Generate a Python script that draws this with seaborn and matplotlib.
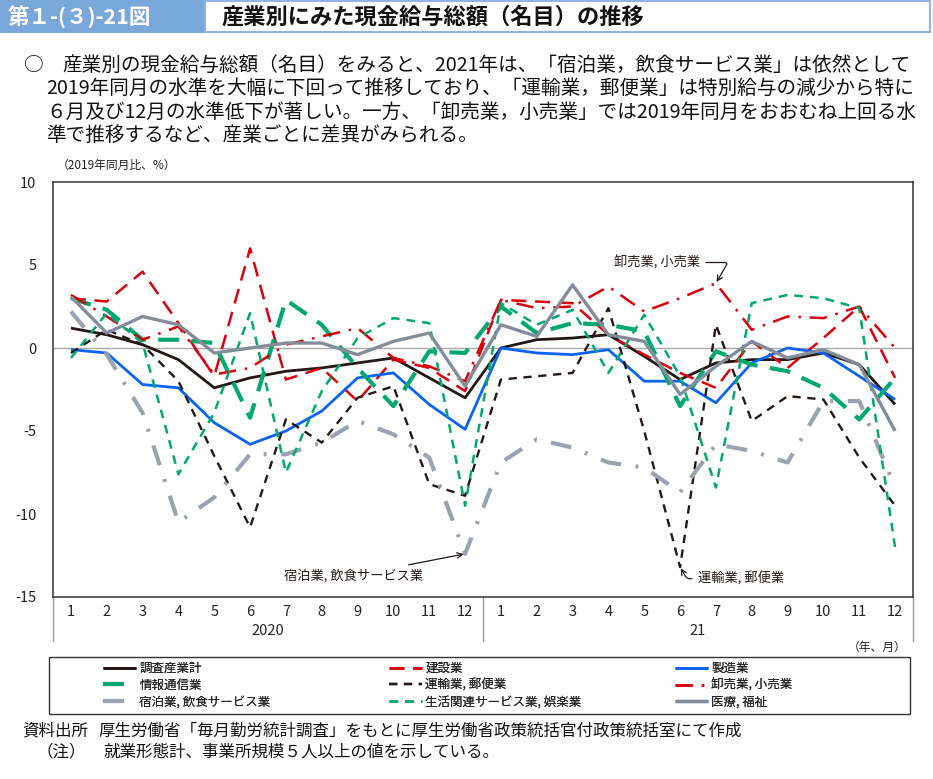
import numpy as np
import pandas as pd
import matplotlib
matplotlib.use("Agg")
import matplotlib.pyplot as plt
from matplotlib.patches import Rectangle
from matplotlib.lines import Line2D
import matplotlib.transforms as mtransforms
import seaborn as sns

# ---------------- data ----------------
months = [1, 2, 3, 4, 5, 6, 7, 8, 9, 10, 11, 12] * 2
year_labels = ["2020", "21"]

total        = [1.2, 0.8, 0.2, -0.7, -2.4, -1.8, -1.4, -1.2, -0.9, -0.6, -1.8, -3.0,
                0.0, 0.5, 0.6, 0.8, -0.5, -1.9, -0.9, -0.7, -0.7, -0.3, -1.0, -3.4]
construction = [3.0, 2.8, 4.6, 1.5, -1.7, 6.0, -1.9, -1.2, -3.2, -0.7, -1.2, -2.6,
                2.9, 2.8, 2.7, 0.8, -0.4, -1.5, -2.4, 0.4, -1.2, 0.6, 2.5, -1.8]
manufacturing = [-0.1, -0.3, -2.2, -2.4, -4.5, -5.8, -5.0, -3.8, -1.8, -1.5, -3.4, -4.9,
                 0.0, -0.3, -0.4, -0.1, -2.0, -2.0, -3.3, -0.9, 0.0, -0.3, -1.7, -3.1]
info_comm    = [3.0, 2.3, 0.5, 0.5, 0.3, -4.2, 2.9, 1.4, -1.2, -3.5, -0.2, -0.3,
                2.5, 0.9, 1.5, 1.4, 1.0, -3.5, -0.2, -1.0, -1.4, -2.4, -4.3, -1.8]
transport    = [-0.3, 1.1, 0.2, -2.0, -6.5, -10.8, -4.3, -5.7, -3.0, -2.3, -8.2, -8.9,
                -1.9, -1.7, -1.5, 2.4, -5.0, -13.2, 1.4, -4.4, -2.9, -3.1, -6.6, -9.5]
wholesale    = [3.2, 1.9, 0.5, 1.3, -1.6, -1.2, 0.2, 0.7, 1.2, -0.6, -1.1, -2.0,
                2.9, 2.4, 2.5, 3.7, 2.2, 3.0, 3.9, 1.1, 1.9, 1.8, 2.5, 0.0]
accommodation = [2.2, -0.4, -3.9, -10.5, -9.0, -6.4, -6.4, -5.7, -4.4, -5.2, -6.6, -12.4,
                 -6.9, -5.5, -6.0, -6.9, -7.2, -8.7, -5.8, -6.2, -6.9, -3.2, -3.2, -8.4]
lifestyle    = [-0.6, 2.1, 0.3, -7.6, -3.9, 2.1, -7.5, -2.6, 0.6, 1.8, 1.5, -9.5,
                2.7, 1.4, 2.3, -1.5, 2.0, -1.7, -8.4, 2.7, 3.2, 3.0, 2.4, -12.0]
health       = [3.1, 0.9, 1.9, 1.4, -0.3, 0.0, 0.3, 0.3, -0.4, 0.4, 0.9, -2.3,
                1.4, 0.7, 3.8, 0.8, 0.4, -2.8, -1.1, 0.4, -0.6, -0.1, -1.0, -5.0]

series_names = ["調査産業計", "建設業", "製造業", "情報通信業", "運輸業, 郵便業",
                "卸売業, 小売業", "宿泊業, 飲食サービス業", "生活関連サービス業, 娯楽業", "医療, 福祉"]
series_vals = [total, construction, manufacturing, info_comm, transport,
               wholesale, accommodation, lifestyle, health]

BLACK = "#231815"
RED = "#d7000f"
BLUE = "#0a64f0"
GREEN = "#00a870"
GRAY1 = "#9aa3ad"
GRAY2 = "#828d99"

styles = {
    "調査産業計": dict(color=BLACK, lw=2.0, dash=None),
    "建設業": dict(color=RED, lw=1.8, dash=(6, 3.5)),
    "製造業": dict(color=BLUE, lw=2.0, dash=None),
    "情報通信業": dict(color=GREEN, lw=3.0, dash=(5, 3)),
    "運輸業, 郵便業": dict(color=BLACK, lw=1.7, dash=(3.5, 2.8)),
    "卸売業, 小売業": dict(color=RED, lw=1.8, dash=(7, 3.5, 1, 3.5)),
    "宿泊業, 飲食サービス業": dict(color=GRAY1, lw=3.0, dash=(5, 3.5, 0.7, 3.5)),
    "生活関連サービス業, 娯楽業": dict(color=GREEN, lw=1.8, dash=(3.5, 2.8)),
    "医療, 福祉": dict(color=GRAY2, lw=2.4, dash=None),
}

df = pd.DataFrame({
    "pos": np.tile(np.arange(24), len(series_names)),
    "value": np.concatenate(series_vals),
    "series": np.repeat(series_names, 24),
})

# ---------------- figure ----------------
sns.set_theme(style="white")
FONT = ["Noto Sans CJK JP", "DejaVu Sans"]
plt.rcParams["font.family"] = FONT

W, H = 933, 779
fig = plt.figure(figsize=(W / 100, H / 100), dpi=100)

def fx(px):
    return px / W

def fy(py):
    return 1 - py / H

ax = fig.add_axes([fx(53), fy(597), fx(913) - fx(53), fy(182) - fy(597)])

ax.axhline(0, color="#a9a9a9", lw=1.0, zorder=1)

line_objs = {}
for name in series_names:
    st = styles[name]
    sub = df[df["series"] == name]
    n_before = len(ax.lines)
    sns.lineplot(data=sub, x="pos", y="value", ax=ax, color=st["color"],
                 linewidth=st["lw"], label=name, zorder=3)
    ln = ax.lines[n_before]
    if st["dash"] is not None:
        ln.set_linestyle((0, st["dash"]))
    ln.set_solid_capstyle("butt")
    ln.set_dash_capstyle("butt")
    line_objs[name] = ln

if ax.get_legend() is not None:
    ax.get_legend().remove()

ax.set_xlim(-0.5, 23.5)
ax.set_ylim(-15, 10)
ax.set_yticks([10, 5, 0, -5, -10, -15])
ax.set_yticklabels(["10", "5", "0", "-5", "-10", "-15"])
ax.set_xticks(np.arange(24))
ax.set_xticklabels([str(m) for m in months])
ax.tick_params(axis="both", length=0, labelsize=10.5, colors="#222222")
ax.tick_params(axis="y", pad=12)
ax.tick_params(axis="x", pad=6)
ax.set_xlabel("")
ax.set_ylabel("")
for sp in ax.spines.values():
    sp.set_color("#333333")
    sp.set_linewidth(1.1)
    sp.set_visible(True)

# year labels and separators
trans = mtransforms.blended_transform_factory(ax.transData, fig.transFigure)
ax.text(5.5, fy(631), year_labels[0], transform=trans, ha="center", va="center",
        fontsize=10.5, color="#222222")
ax.text(17.5, fy(631), year_labels[1], transform=trans, ha="center", va="center",
        fontsize=10.5, color="#222222")
for xp in [-0.5, 11.5, 23.5]:
    ax.add_line(Line2D([xp, xp], [fy(597), fy(641)], transform=trans, color="#999999",
                       lw=1.0, clip_on=False))

# annotations
arrowprops = dict(arrowstyle="->", color=BLACK, lw=0.9, shrinkA=2, shrinkB=1)
ax.annotate("卸売業, 小売業", xy=(18, 3.9), xytext=(16.35, 5.15), fontsize=9.5,
            ha="center", va="center", color=BLACK, arrowprops=dict(
                arrowstyle="->", color=BLACK, lw=0.9, shrinkA=2, shrinkB=1,
                connectionstyle="angle,angleA=0,angleB=60,rad=3"))
ax.annotate("宿泊業, 飲食サービス業", xy=(11, -12.4), xytext=(7.9, -13.7), fontsize=9.5,
            ha="center", va="center", color=BLACK, arrowprops=arrowprops)
ax.annotate("運輸業, 郵便業", xy=(17, -13.2), xytext=(18.7, -13.9), fontsize=9.5,
            ha="center", va="center", color=BLACK, arrowprops=dict(
                arrowstyle="->", color=BLACK, lw=0.9, shrinkA=2, shrinkB=1,
                connectionstyle="angle,angleA=0,angleB=-60,rad=3"))

# axis unit labels
fig.text(fx(57), fy(165), "（2019年同月比、%）", fontsize=8.5, ha="left", va="center",
         color="#222222")
fig.text(fx(907), fy(647), "（年、月）", fontsize=8.5, ha="right", va="center",
         color="#222222")

# ---------------- header ----------------
fig.patches.append(Rectangle((0, fy(33)), fx(205), 33 / H, transform=fig.transFigure,
                             facecolor="#7aa7d9", edgecolor="none", zorder=0))
fig.patches.append(Rectangle((fx(205), fy(32)), fx(930) - fx(205), 31 / H,
                             transform=fig.transFigure, facecolor="none",
                             edgecolor="#8fb6e2", lw=1.5, zorder=0))
fig.text(fx(8), fy(17), "第１-(３)-21図", fontsize=15.5, color="white", ha="left",
         va="center", fontweight="bold")
fig.text(fx(222), fy(17), "産業別にみた現金給与総額（名目）の推移", fontsize=16,
         color="#111111", ha="left", va="center", fontweight="bold")

body_fs = 14.1
fig.text(fx(24), fy(65), "○", fontsize=body_fs, ha="left", va="center", color="#111111")
fig.text(fx(62), fy(65), "産業別の現金給与総額（名目）をみると、2021年は、「宿泊業，飲食サービス業」は依然として",
         fontsize=body_fs, ha="left", va="center", color="#111111")
fig.text(fx(46), fy(88), "2019年同月の水準を大幅に下回って推移しており、「運輸業，郵便業」は特別給与の減少から特に",
         fontsize=body_fs, ha="left", va="center", color="#111111")
fig.text(fx(46), fy(112), "６月及び12月の水準低下が著しい。一方、「卸売業，小売業」では2019年同月をおおむね上回る水",
         fontsize=body_fs, ha="left", va="center", color="#111111")
fig.text(fx(46), fy(135), "準で推移するなど、産業ごとに差異がみられる。",
         fontsize=body_fs, ha="left", va="center", color="#111111")

# ---------------- legend ----------------
fig.patches.append(Rectangle((fx(49), fy(714)), fx(910) - fx(49), 57 / H,
                             transform=fig.transFigure, facecolor="none",
                             edgecolor="#333333", lw=1.0, zorder=0))
cols = [["調査産業計", "情報通信業", "宿泊業, 飲食サービス業"],
        ["建設業", "運輸業, 郵便業", "生活関連サービス業, 娯楽業"],
        ["製造業", "卸売業, 小売業", "医療, 福祉"]]
col_x = [103, 389, 675]
for names, cx in zip(cols, col_x):
    leg = fig.legend([line_objs[n] for n in names], names, loc="upper left",
                     bbox_to_anchor=(fx(cx), fy(662)), frameon=False, fontsize=9,
                     handlelength=2.6, handletextpad=0.3, labelspacing=0.3,
                     borderpad=0, borderaxespad=0)
    fig.add_artist(leg)

# ---------------- footer ----------------
foot_fs = 11.9
fig.text(fx(22), fy(731), "資料出所", fontsize=foot_fs, ha="left", va="center", color="#111111")
fig.text(fx(98), fy(731), "厚生労働省「毎月勤労統計調査」をもとに厚生労働省政策統括官付政策統括室にて作成",
         fontsize=foot_fs, ha="left", va="center", color="#111111")
fig.text(fx(36), fy(752), "（注）", fontsize=foot_fs, ha="left", va="center", color="#111111")
fig.text(fx(103), fy(752), "就業形態計、事業所規模５人以上の値を示している。",
         fontsize=foot_fs, ha="left", va="center", color="#111111")

fig.savefig("out.png", dpi=100)
